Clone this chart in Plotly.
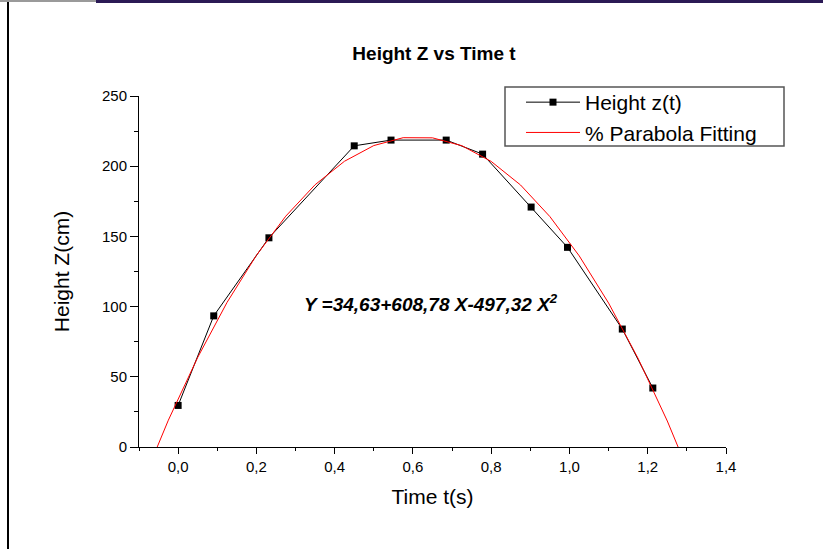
import plotly.graph_objects as go

# ---- data ----
time_s = [0.0, 0.091, 0.232, 0.45, 0.544, 0.685, 0.778, 0.902, 0.995, 1.135, 1.213]
height_cm = [29.6, 93.4, 149.0, 214.5, 218.6, 218.6, 208.6, 170.9, 142.2, 84.0, 42.0]

fit_t = [-0.1, -0.025, 0.05, 0.125, 0.2, 0.275, 0.35, 0.425, 0.5, 0.575, 0.65,
         0.725, 0.8, 0.875, 0.95, 1.025, 1.1, 1.175, 1.25, 1.325]
fit_z = [-31.2, 19.1, 63.8, 103.0, 136.5, 164.4, 186.8, 203.5, 214.7, 220.3, 220.2,
         214.6, 203.4, 186.6, 164.1, 136.1, 102.5, 63.3, 18.5, -31.8]

x_ticks = [0.0, 0.2, 0.4, 0.6, 0.8, 1.0, 1.2, 1.4]
y_ticks = [0, 50, 100, 150, 200, 250]

title_text = "Height Z vs Time t"
x_title = "Time t(s)"
y_title = "Height Z(cm)"
series_names = ["Height z(t)", "% Parabola Fitting"]
equation = "<b><i>Y =34,63+608,78 X-497,32 X<sup>2</sup></i></b>"

# ---- layout geometry ----
W, H = 823, 549
L, R, T, B = 139, 97, 96, 102
PW, PH = W - L - R, H - T - B
FONT = "Liberation Sans, Arial, sans-serif"


def px_x(p):
    return (p - L) / PW


def px_y(p):
    return (H - B - p) / PH


fig = go.Figure()
fig.add_trace(go.Scatter(
    x=time_s, y=height_cm, name=series_names[0], mode="lines+markers",
    line=dict(color="black", width=1),
    marker=dict(symbol="square", size=7, color="black"),
    legendgroup="a",
))
fig.add_trace(go.Scatter(
    x=fit_t, y=fit_z, name=series_names[1], mode="lines",
    line=dict(color="#ff0000", width=1),
    legendgroup="b",
))

axis_common = dict(
    showgrid=False, zeroline=False, showline=True, linecolor="black", linewidth=1,
    ticks="outside", tickcolor="black", tickwidth=1,
    tickfont=dict(family=FONT, size=15, color="black"),
    mirror=False,
)

fig.update_xaxes(
    range=[-0.1, 1.4], tickvals=x_ticks, tickformat=".1f", ticklen=6,
    minor=dict(dtick=0.1, tick0=0, ticks="outside", ticklen=3, tickcolor="black", tickwidth=1),
    title=dict(text=x_title, font=dict(family=FONT, size=21, color="black"), standoff=15),
    **axis_common,
)
fig.update_yaxes(
    range=[0, 250], tickvals=y_ticks, ticklen=8,
    minor=dict(dtick=25, tick0=0, ticks="outside", ticklen=4, tickcolor="black", tickwidth=1),
    title=dict(text=y_title, font=dict(family=FONT, size=21, color="black"), standoff=26),
    **axis_common,
)

shapes = [
    # legend box
    dict(type="rect", xref="paper", yref="paper",
         x0=px_x(505), x1=px_x(784), y0=px_y(146), y1=px_y(87),
         line=dict(color="#555555", width=1.5), fillcolor="rgba(0,0,0,0)", layer="above"),
    # page frame decorations
    dict(type="rect", xref="paper", yref="paper",
         x0=px_x(0), x1=px_x(96), y0=px_y(2), y1=px_y(0),
         line=dict(width=0), fillcolor="#9a9a9a", layer="above"),
    dict(type="rect", xref="paper", yref="paper",
         x0=px_x(96), x1=px_x(W), y0=px_y(3), y1=px_y(0),
         line=dict(width=0), fillcolor="#2b1a55", layer="above"),
    dict(type="rect", xref="paper", yref="paper",
         x0=px_x(7), x1=px_x(9), y0=px_y(H), y1=px_y(2),
         line=dict(width=0), fillcolor="black", layer="above"),
]

fig.update_layout(
    width=W, height=H,
    margin=dict(l=L, r=R, t=T, b=B, autoexpand=False),
    paper_bgcolor="white", plot_bgcolor="white",
    separators=",.",
    font=dict(family=FONT, color="black"),
    title=dict(text="<b>" + title_text + "</b>", x=px_x(434), xref="paper",
               xanchor="center", y=1 - 53 / H, yref="container", yanchor="middle",
               font=dict(family=FONT, size=19, color="black")),
    showlegend=True,
    legend=dict(
        x=px_x(521), y=px_y(82), xanchor="left", yanchor="top",
        bgcolor="rgba(0,0,0,0)", borderwidth=0,
        font=dict(family=FONT, size=21, color="black"),
        itemwidth=54, traceorder="grouped", tracegroupgap=0,
    ),
    shapes=shapes,
    annotations=[
        dict(text=equation, xref="paper", yref="paper",
             x=px_x(302), y=px_y(303), xanchor="left", yanchor="middle",
             showarrow=False, font=dict(family=FONT, size=19, color="black")),
    ],
)

fig.write_html(
    "out.html",
    config={"displayModeBar": False},
    post_script="document.body.style.margin='0px';document.body.style.overflow='hidden';",
)
